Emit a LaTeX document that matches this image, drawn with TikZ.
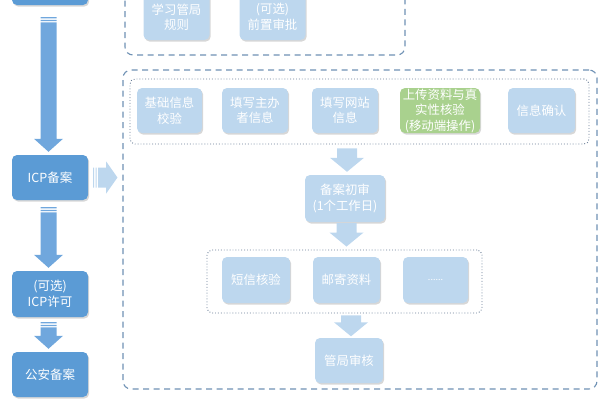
\documentclass[tikz,border=0pt]{standalone}
\usepackage{fontspec}
\setmainfont{Noto Sans CJK SC}
\usetikzlibrary{shadows,calc}
\definecolor{dblue}{RGB}{91,155,213}
\definecolor{arrblue}{RGB}{112,167,221}
\definecolor{lblue}{RGB}{189,215,238}
\definecolor{lgreen}{RGB}{169,209,142}
\definecolor{dashcol}{RGB}{110,145,180}
\definecolor{dotcol}{RGB}{105,125,150}
\tikzset{
  shad/.style={drop shadow={shadow xshift=1.2pt,shadow yshift=-1.6pt,opacity=0.35,fill=black!45}},
  dbox/.style={shad,fill=dblue,rounded corners=5pt,text=white,align=center,inner sep=0pt,
    minimum width=76pt,minimum height=45pt,font=\fontsize{12.5}{16.5}\selectfont},
  lbox/.style={shad,fill=lblue,rounded corners=5pt,text=white,align=center,inner sep=0pt,
    minimum height=45pt,font=\fontsize{12.4}{15.5}\selectfont},
  gbox/.style={lbox,fill=lgreen},
  dashframe/.style={draw=dashcol,line width=1.1pt,dash pattern=on 6pt off 4.5pt,rounded corners=8pt,inner sep=0pt},
  dotframe/.style={draw=dotcol,line width=0.9pt,dotted,rounded corners=5pt,inner sep=0pt},
}
% big dark arrow from node #1 to node #2, top gap #3
\newcommand\bigdown[3]{%
  \fill[arrblue] let \p1=(#1.south), \p2=(#2.north) in
    (\x1-9.5pt,\y1-#3) rectangle (\x1+6.5pt,\y1-#3-1.2pt)
    (\x1-9.5pt,\y1-#3-2.6pt) rectangle (\x1+6.5pt,\y1-#3-3.8pt)
    (\x1-9.5pt,\y1-#3-5.2pt) -- (\x1+6.5pt,\y1-#3-5.2pt) -- (\x1+6.5pt,\y2+16pt)
    -- (\x1+13pt,\y2+16pt) -- (\x1-1.5pt,\y2+3pt) -- (\x1-16pt,\y2+16pt)
    -- (\x1-9.5pt,\y2+16pt) -- cycle;}
% light arrow down from node #1 to node #2: top gap #3, bottom gap #4
\newcommand\lightdown[4]{%
  \fill[lblue] let \p1=(#1.south), \p2=(#2.north) in
    (\x2-8pt,\y1-#3) -- (\x2+12pt,\y1-#3) -- (\x2+12pt,\y2+#4+14pt)
    -- (\x2+19pt,\y2+#4+14pt) -- (\x2+2pt,\y2+#4) -- (\x2-15pt,\y2+#4+14pt)
    -- (\x2-8pt,\y2+#4+14pt) -- cycle;}
\begin{document}
\begin{tikzpicture}[x=1pt,y=-1pt]
\useasboundingbox (0,0) rectangle (600,400);

% left column
\node[dbox,minimum height=40pt] (top) at (50,-15) {};
\node[dbox] (icp) at (50,177.5) {ICP备案};
\node[dbox,minimum height=46pt] (lic) at (50,294) {(可选)\\ICP许可};
\node[dbox] (gongan) at (50,374.5) {公安备案};

\bigdown{top}{icp}{12pt}
\bigdown{icp}{lic}{7pt}
\bigdown{lic}{gongan}{5pt}

% top dashed frame
\node[dashframe,minimum width=280pt,minimum height=80pt] (frame1) at (265,15) {};
\node[lbox,minimum width=66pt,minimum height=46pt] (learn) at (176.5,17) {学习管局\\规则};
\node[lbox,minimum width=66pt,minimum height=46pt] (pre) at (272.5,17) {(可选)\\前置审批};

% big dashed frame
\node[dashframe,minimum width=474pt,minimum height=319pt] (frame2) at (360,229.5) {};

% light arrow to the right
\fill[lblue] let \p1=(icp.east), \p2=(frame2.west) in
  (\x1+5pt,\y1-10pt) rectangle (\x1+6pt,\y1+10pt)
  (\x1+7.5pt,\y1-10pt) rectangle (\x1+8.5pt,\y1+10pt)
  (\x1+10pt,\y1-10pt) -- (\x1+18pt,\y1-10pt) -- (\x1+18pt,\y1-16pt)
  -- (\x2-5pt,\y1) -- (\x1+18pt,\y1+16pt) -- (\x1+18pt,\y1+10pt)
  -- (\x1+10pt,\y1+10pt) -- cycle;

% first row
\node[dotframe,minimum width=459pt,minimum height=65pt] (row1) at (359.5,111.5) {};
\node[lbox,minimum width=65pt] (b1) at (169.5,110.5) {基础信息\\校验};
\node[lbox,minimum width=66pt] (b2) at (255,110.5) {填写主办\\者信息};
\node[lbox,minimum width=66pt] (b3) at (345,110.5) {填写网站\\信息};
\node[gbox,minimum width=80pt] (b4) at (440,110.5) {上传资料与真\\实性核验\\(移动端操作)};
\node[lbox,minimum width=67pt] (b5) at (541.5,110.5) {信息确认};

% first review
\node[lbox,minimum width=80pt,minimum height=47pt] (first) at (345,198.5) {备案初审\\(1个工作日)};

% second row
\node[dotframe,minimum width=275pt,minimum height=63pt] (row2) at (344.5,281.5) {};
\node[lbox,minimum width=68pt,minimum height=46pt] (sms) at (256,280) {短信核验};
\node[lbox,minimum width=67pt,minimum height=46pt] (mail) at (346.5,280) {邮寄资料};
\node[lbox,minimum width=65pt,minimum height=46pt] (more) at (435.5,280) {\fontsize{9}{10}\selectfont ......};

% final review
\node[lbox,minimum width=68pt,minimum height=45pt] (final) at (349,360.5) {管局审核};

\lightdown{row1}{first}{4pt}{3pt}
\lightdown{first}{row2}{1pt}{3pt}
\lightdown{row2}{final}{2pt}{1.5pt}
\end{tikzpicture}
\end{document}
